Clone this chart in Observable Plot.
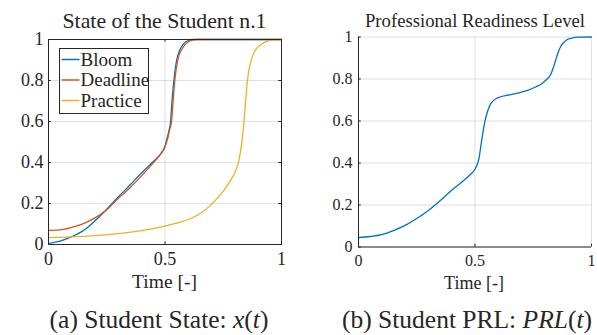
<!DOCTYPE html>
<html><head><meta charset="utf-8">
<script src="https://cdn.jsdelivr.net/npm/d3@7"></script>
<script src="https://cdn.jsdelivr.net/npm/@observablehq/plot@0.6"></script>
<style>
body{margin:0;background:#fff;}
#wrap{position:relative;width:597px;height:335px;overflow:hidden;color:#262626}
.p{position:absolute;top:0}
#over{position:absolute;left:0;top:0;fill:#262626}
</style></head><body>
<div id="wrap">
 <div id="left" class="p" style="left:0"></div>
 <div id="right" class="p" style="left:300px"></div>
 <svg id="over" width="597" height="335">
  <text class="tx" x="164.5" y="28" data-fs="21.8" text-anchor="middle">State of the Student n.1</text>
  <text class="tx" x="475" y="27" data-fs="18.7" text-anchor="middle">Professional Readiness Level</text>
  <text class="tx" x="164.5" y="288" data-fs="19.5" text-anchor="middle">Time [-]</text>
  <text class="tx" x="474" y="288.5" data-fs="18" text-anchor="middle">Time [-]</text>
  <text class="tx" x="159" y="328" data-fs="25.5" text-anchor="middle">(a) Student State: <tspan font-style="italic">x</tspan>(<tspan font-style="italic">t</tspan>)</text>
  <text class="tx" x="467" y="328" data-fs="25.5" text-anchor="middle">(b) Student PRL: <tspan font-style="italic">PRL</tspan>(<tspan font-style="italic">t</tspan>)</text>
  <g id="legend"></g>
 </svg>
</div>
<script>
// ---- data ----
const seriesNames = ["Bloom", "Deadline", "Practice"];
const seriesColors = ["#0072BD", "#D95319", "#EDB120"];

const tBloom = [0, 0.05, 0.1, 0.15, 0.2, 0.25, 0.3, 0.35, 0.4, 0.45, 0.48, 0.5, 0.506, 0.517, 0.524, 0.53, 0.538, 0.55, 0.564, 0.58, 0.6, 0.62, 1];
const vBloom = [0.006, 0.017, 0.038, 0.068, 0.116, 0.172, 0.233, 0.29, 0.35, 0.405, 0.44, 0.478, 0.506, 0.555, 0.6, 0.7, 0.8, 0.9, 0.95, 0.98, 0.995, 1, 1];

const tDeadline = [0, 0.05, 0.1, 0.15, 0.2, 0.25, 0.3, 0.35, 0.4, 0.45, 0.48, 0.5, 0.51, 0.52, 0.528, 0.535, 0.542, 0.555, 0.571, 0.59, 0.61, 0.64, 1];
const vDeadline = [0.069, 0.071, 0.083, 0.102, 0.13, 0.17, 0.225, 0.277, 0.336, 0.398, 0.44, 0.478, 0.51, 0.56, 0.6, 0.7, 0.8, 0.9, 0.95, 0.98, 0.995, 1, 1];

const tPractice = [0, 0.1, 0.2, 0.3, 0.4, 0.5, 0.55, 0.6, 0.65, 0.7, 0.75, 0.78, 0.8, 0.81, 0.818, 0.825, 0.832, 0.839, 0.846, 0.854, 0.86, 0.868, 0.878, 0.89, 0.905, 0.92, 0.94, 0.96, 0.98, 1];
const vPractice = [0.034, 0.037, 0.043, 0.053, 0.068, 0.09, 0.104, 0.122, 0.15, 0.197, 0.26, 0.31, 0.35, 0.38, 0.415, 0.46, 0.52, 0.6, 0.7, 0.8, 0.85, 0.89, 0.925, 0.952, 0.97, 0.982, 0.992, 0.998, 1, 1];

const tPRL = [0, 0.05, 0.1, 0.15, 0.2, 0.25, 0.3, 0.35, 0.4, 0.45, 0.48, 0.5, 0.51, 0.517, 0.525, 0.532, 0.542, 0.553, 0.568, 0.597, 0.654, 0.7, 0.726, 0.76, 0.783, 0.805, 0.823, 0.835, 0.848, 0.858, 0.869, 0.885, 0.898, 0.92, 0.941, 1];
const vPRL = [0.045, 0.05, 0.059, 0.078, 0.103, 0.136, 0.174, 0.22, 0.27, 0.315, 0.345, 0.37, 0.395, 0.421, 0.48, 0.532, 0.595, 0.643, 0.683, 0.71, 0.726, 0.738, 0.746, 0.762, 0.775, 0.795, 0.818, 0.85, 0.897, 0.93, 0.957, 0.978, 0.989, 0.996, 0.999, 1];

const xTicks = [0, 0.5, 1];
const xTickLabels = ["0", "0.5", "1"];
const yTicks = [0, 0.2, 0.4, 0.6, 0.8, 1];
const yTickLabels = ["0", "0.2", "0.4", "0.6", "0.8", "1"];

// ---- font detection ----
function hasFont(name) {
  const c = document.createElement("canvas").getContext("2d");
  const s = "abcdefghijklmnopqrstuvwxyz0123456789WMQ";
  c.font = "40px monospace"; const a = c.measureText(s).width;
  c.font = `40px "${name}", monospace`; const b = c.measureText(s).width;
  c.font = "40px sans-serif"; const a2 = c.measureText(s).width;
  c.font = `40px "${name}", sans-serif`; const b2 = c.measureText(s).width;
  return a !== b || a2 !== b2;
}
const candidates = [["Liberation Serif", 1], ["Tinos", 1], ["Times New Roman", 1], ["Noto Serif", 0.88], ["DejaVu Serif", 0.86]];
let FONT = "serif", K = 1;
for (const [n, k] of candidates) { if (hasFont(n)) { FONT = `"${n}"`; K = k; break; } }
const font = FONT + ", serif";
const fs = v => v * K;

document.querySelectorAll("#over .tx").forEach(t => {
  t.setAttribute("font-family", font);
  t.setAttribute("font-size", fs(+t.dataset.fs));
});

// ---- build tables ----
const rows = (ts, vs, name) => ts.map((t, i) => ({t, v: vs[i], name}));
const dataA = [
  ...rows(tBloom, vBloom, seriesNames[0]),
  ...rows(tDeadline, vDeadline, seriesNames[1]),
  ...rows(tPractice, vPractice, seriesNames[2])
];
const dataB = rows(tPRL, vPRL, "PRL");

const AX = "#262626";
const GRID = {stroke: AX, strokeOpacity: 0.14, strokeWidth: 1};
const fmtX = d => xTickLabels[xTicks.indexOf(d)];
const fmtY = d => yTickLabels[yTicks.indexOf(d)];

const left = Plot.plot({
  width: 300, height: 300,
  marginLeft: 48, marginRight: 19, marginTop: 39, marginBottom: 56,
  style: {fontFamily: font, color: AX, background: "transparent", overflow: "visible"},
  x: {domain: [0, 1]},
  y: {domain: [0, 1]},
  color: {domain: seriesNames, range: seriesColors},
  marks: [
    Plot.gridX(xTicks, GRID),
    Plot.gridY(yTicks, GRID),
    Plot.line(dataA, {x: "t", y: "v", stroke: "name", strokeWidth: 1.3, curve: "monotone-x"}),
    Plot.ruleX(xTicks, {x: d => d, y1: 0, y2: 0.013, stroke: AX}),
    Plot.ruleX(xTicks, {x: d => d, y1: 0.987, y2: 1, stroke: AX}),
    Plot.ruleY(yTicks, {y: d => d, x1: 0, x2: 0.012, stroke: AX}),
    Plot.ruleY(yTicks, {y: d => d, x1: 0.988, x2: 1, stroke: AX}),
    Plot.frame({stroke: AX, strokeWidth: 1}),
    Plot.axisX(xTicks, {tickSize: 0, tickPadding: 8, tickFormat: fmtX, fontSize: fs(18), fontFamily: font, fill: AX, label: null}),
    Plot.axisY(yTicks, {tickSize: 0, tickPadding: 5, tickFormat: fmtY, fontSize: fs(18), fontFamily: font, fill: AX, label: null})
  ]
});
document.getElementById("left").append(left);

const right = Plot.plot({
  width: 297, height: 300,
  marginLeft: 58, marginRight: 6, marginTop: 36.5, marginBottom: 53.5,
  style: {fontFamily: font, color: AX, background: "transparent", overflow: "visible"},
  x: {domain: [0, 1]},
  y: {domain: [0, 1]},
  marks: [
    Plot.gridX(xTicks, GRID),
    Plot.gridY(yTicks, GRID),
    Plot.line(dataB, {x: "t", y: "v", stroke: seriesColors[0], strokeWidth: 1.3, curve: "monotone-x"}),
    Plot.ruleX(xTicks, {x: d => d, y1: 0, y2: 0.013, stroke: AX}),
    Plot.ruleY(yTicks, {y: d => d, x1: 0, x2: 0.012, stroke: AX}),
    Plot.ruleX([0], {stroke: AX}),
    Plot.ruleY([0], {stroke: AX}),
    Plot.axisX(xTicks, {tickSize: 0, tickPadding: 8, tickFormat: fmtX, fontSize: fs(16), fontFamily: font, fill: AX, label: null}),
    Plot.axisY(yTicks, {tickSize: 0, tickPadding: 6, tickFormat: fmtY, fontSize: fs(16), fontFamily: font, fill: AX, label: null})
  ]
});
document.getElementById("right").append(right);

// ---- legend (left panel) ----
const ns = "http://www.w3.org/2000/svg";
const lg = document.getElementById("legend");
const mk = (tag, attrs) => { const e = document.createElementNS(ns, tag); for (const k in attrs) e.setAttribute(k, attrs[k]); lg.append(e); return e; };
mk("rect", {x: 59.5, y: 48.5, width: 89, height: 65, fill: "#fff", stroke: AX, "stroke-width": 1});
seriesNames.forEach((name, i) => {
  const cy = 59.5 + i * 20.5;
  mk("line", {x1: 61.5, x2: 79.5, y1: cy, y2: cy, stroke: seriesColors[i], "stroke-width": 1.5});
  const t = mk("text", {x: 80.5, y: cy + 6.3, "font-size": fs(19), "font-family": font});
  t.textContent = name;
});
</script>
</body></html>
